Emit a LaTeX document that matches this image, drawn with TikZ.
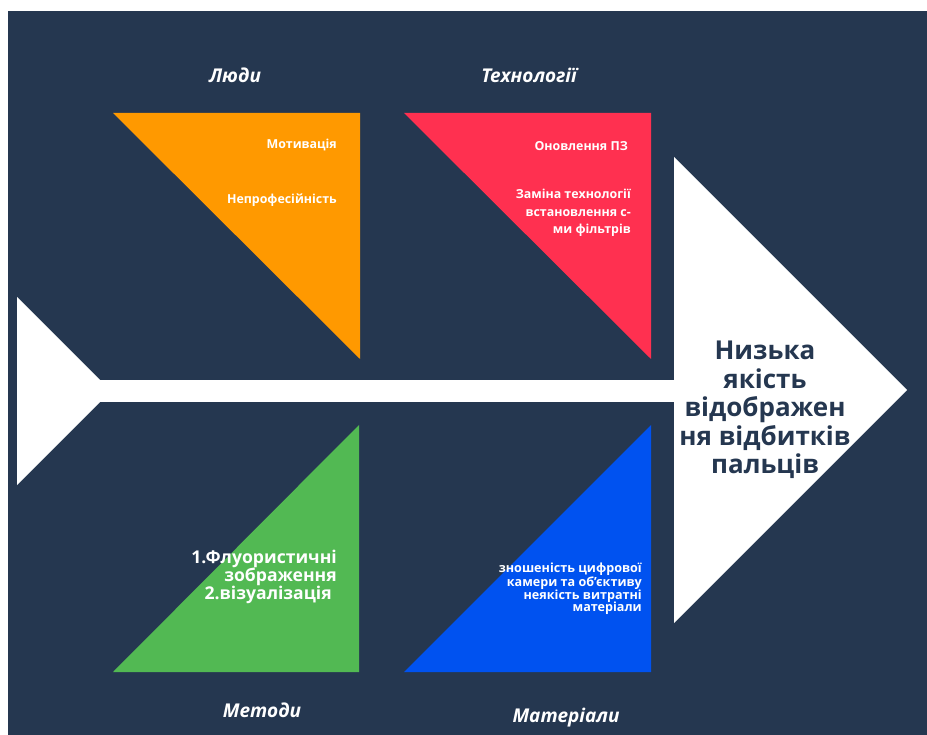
\documentclass[tikz,border=0pt]{standalone}
\usepackage{fontspec}
\setmainfont{Open Sans}
\definecolor{BackNavy}{RGB}{37,55,80}
\definecolor{PeopleOrange}{RGB}{255,153,0}
\definecolor{TechRed}{RGB}{255,48,80}
\definecolor{MethodGreen}{RGB}{82,185,83}
\definecolor{MaterialBlue}{RGB}{0,82,240}

\begin{document}
\begin{tikzpicture}[x=1pt,y=-1pt]
	  \useasboundingbox (0,0) rectangle (927,735);
	  \tikzset{BoneStyle/.style  = {fill         = white}}

	  \tikzset{CauseStyle/.style = {text         = white,
	                                align        = right,
	                                anchor       = east,
	                                inner sep    = 0pt,
	                                font         = \bfseries\fontsize{12.4}{17.5}\selectfont}}

	  \tikzset{GroupStyle/.style = {text         = white,
	                                inner sep    = 0pt,
	                                font         = \bfseries\itshape\fontsize{19}{20}\selectfont}}

	  \tikzset{HeadStyle/.style  = {text         = BackNavy,
	                                align        = center,
	                                inner sep    = 0pt,
	                                font         = \bfseries\fontsize{26}{28.5}\selectfont}}

	     % background
	     \fill[BackNavy] (8,11) rectangle (927,735);

	     % fish bones
	     \coordinate (S_1) at (100,380);
	     \coordinate (S_2) at (674,402);
	     \fill[BoneStyle] (17,297) -- (100,380) -- (100,402) -- (17,485) -- cycle;
	     \fill[BoneStyle] (S_1) rectangle (S_2);
	     \fill[BoneStyle] (674,157) -- (907,390) -- (674,623) -- cycle;

	     % cause triangles
	     \fill[PeopleOrange] (113,113) -- (360,113) -- (360,359) -- cycle;
	     \fill[TechRed]      (404,113) -- (651,113) -- (651,359) -- cycle;
	     \fill[MethodGreen]  (359,425) -- (359,672) -- (113,672) -- cycle;
	     \fill[MaterialBlue] (651,425) -- (651,672) -- (404,672) -- cycle;

	     \node[GroupStyle] (G_1) at (235,75)  {Люди};
	     \node[GroupStyle] (G_2) at (529,75)  {Технології};
	     \node[GroupStyle] (G_3) at (262,710) {Методи};
	     \node[GroupStyle] (G_4) at (566,718) {Матеріали};

	     \node[CauseStyle] (C_1) at (337,145) {Мотивація};
	     \node[CauseStyle] (C_2) at (337,200) {Непрофесійність};
	     \node[CauseStyle] (C_3) at (628,146) {Оновлення ПЗ};
	     \node[CauseStyle] (C_4) at (631,213) {Заміна технології\\встановлення с-\\ми фільтрів};
	     \node[CauseStyle, font = \bfseries\fontsize{17.6}{18.2}\selectfont]
	                        (C_5) at (337,577) {1.Флуористичні\\зображення\\2.візуалізація\hspace*{5pt}};
	     \node[CauseStyle, font = \bfseries\fontsize{12.6}{12.7}\selectfont]
	                        (C_6) at (642,589) {зношеність цифрової\\камери та об'єктиву\\неякість витратні\\матеріали};

	     \node[HeadStyle]  (H_1) at (765,410) {Низька\\якість\\відображен\\ня відбитків\\пальців};
	  \end{tikzpicture}
\end{document}
